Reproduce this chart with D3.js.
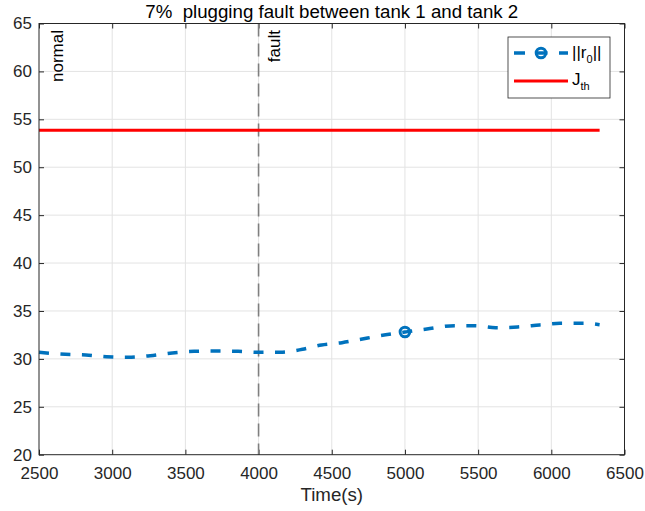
<!DOCTYPE html>
<html>
<head>
<meta charset="utf-8">
<script src="https://cdn.jsdelivr.net/npm/d3@7"></script>
<style>
  body { margin: 0; background: #fff; }
  svg { display: block; font-family: "Liberation Sans", Arial, sans-serif; }
</style>
</head>
<body>
<svg id="chart" width="645" height="511"></svg>
<script>
// residual norm ||r0||
const times = [2500, 2680, 2820, 2960, 3110, 3260, 3410, 3560, 3710, 3860, 4000, 4150, 4300, 4430,
    4570, 4700, 4820, 5000, 5150, 5340, 5480, 5620, 5770, 5920, 6060, 6220, 6330];
const residual = [30.69, 30.48, 30.41, 30.23, 30.17, 30.33, 30.62, 30.79, 30.82, 30.79, 30.69, 30.69, 31.0, 31.45,
    31.69, 32.05, 32.39, 32.8, 33.12, 33.47, 33.47, 33.26, 33.33, 33.54, 33.72, 33.72, 33.57];
const markerTimes = [5000];
const threshold = 53.86;
const thresholdSpan = [2500, 6330];
const faultTime = 4000;
const xTicks = [2500, 3000, 3500, 4000, 4500, 5000, 5500, 6000, 6500];
const yTicks = [20, 25, 30, 35, 40, 45, 50, 55, 60, 65];

const axisColor = "#262626";
const gridColor = "#e3e3e3";
const blue = "#0072bd";
const red = "#ff0000";
const fontSize = 17;
const labelSize = 18.7;

const svg = d3.select("#chart");
const plotLeft = 39, plotRight = 624.5, plotTop = 23.5, plotBottom = 454.7;

const x = d3.scaleLinear().domain([2500, 6500]).range([plotLeft, plotRight]);
const y = d3.scaleLinear().domain([20, 65]).range([plotBottom, plotTop]);

// grid
svg.append("g").selectAll("line").data(xTicks.slice(1, -1)).join("line")
    .attr("x1", d => x(d)).attr("x2", d => x(d))
    .attr("y1", plotTop).attr("y2", plotBottom)
    .attr("stroke", gridColor).attr("stroke-width", 1);
svg.append("g").selectAll("line").data(yTicks.slice(1, -1)).join("line")
    .attr("x1", plotLeft).attr("x2", plotRight)
    .attr("y1", d => y(d)).attr("y2", d => y(d))
    .attr("stroke", gridColor).attr("stroke-width", 1);

// axes (ticks point inward, box on)
function styleAxis(g) {
    g.select(".domain").remove();
    g.selectAll("line").attr("stroke", axisColor);
    g.selectAll("text").attr("fill", axisColor).attr("font-size", fontSize);
}
svg.append("g").attr("transform", `translate(0,${plotBottom})`)
    .call(d3.axisBottom(x).tickValues(xTicks).tickSize(-5).tickPadding(12).tickFormat(d3.format("d")))
    .call(styleAxis);
svg.append("g").attr("transform", `translate(0,${plotTop})`)
    .call(d3.axisTop(x).tickValues(xTicks).tickSize(-5).tickFormat(""))
    .call(styleAxis);
svg.append("g").attr("transform", `translate(${plotLeft},0)`)
    .call(d3.axisLeft(y).tickValues(yTicks).tickSize(-5).tickPadding(7))
    .call(styleAxis);
svg.append("g").attr("transform", `translate(${plotRight},0)`)
    .call(d3.axisRight(y).tickValues(yTicks).tickSize(-5).tickFormat(""))
    .call(styleAxis);

// fault marker line
svg.append("line")
    .attr("x1", x(faultTime)).attr("x2", x(faultTime))
    .attr("y1", plotTop).attr("y2", plotBottom)
    .attr("stroke", "#7f7f7f").attr("stroke-width", 1.6)
    .attr("stroke-dasharray", "13,7");

// threshold
svg.append("line")
    .attr("x1", x(thresholdSpan[0])).attr("x2", x(thresholdSpan[1]))
    .attr("y1", y(threshold)).attr("y2", y(threshold))
    .attr("stroke", red).attr("stroke-width", 3);

// residual
const pts = times.map((t, i) => [t, residual[i]]);
const line = d3.line().x(d => x(d[0])).y(d => y(d[1])).curve(d3.curveMonotoneX);
svg.append("path").datum(pts)
    .attr("d", line)
    .attr("fill", "none").attr("stroke", blue).attr("stroke-width", 3.5)
    .attr("stroke-dasharray", "10,11.5");
svg.append("g").selectAll("circle").data(markerTimes).join("circle")
    .attr("cx", d => x(d)).attr("cy", d => y(residual[times.indexOf(d)]))
    .attr("r", 4.8)
    .attr("fill", "none").attr("stroke", blue).attr("stroke-width", 3);

// box
svg.append("rect")
    .attr("x", plotLeft).attr("y", plotTop)
    .attr("width", plotRight - plotLeft).attr("height", plotBottom - plotTop)
    .attr("fill", "none").attr("stroke", axisColor).attr("stroke-width", 1);

// phase annotations
svg.append("text")
    .attr("transform", `translate(${x(2500) + 24},${plotTop + 6.5}) rotate(-90)`)
    .attr("text-anchor", "end")
    .attr("font-size", fontSize).attr("fill", "#000")
    .text("normal");
svg.append("text")
    .attr("transform", `translate(${x(faultTime) + 21},${plotTop + 6.5}) rotate(-90)`)
    .attr("text-anchor", "end")
    .attr("font-size", fontSize).attr("fill", "#000")
    .text("fault");

// title and x label
svg.append("text")
    .attr("x", (plotLeft + plotRight) / 2).attr("y", 18)
    .attr("text-anchor", "middle").attr("font-size", labelSize).attr("fill", "#000")
    .style("white-space", "pre")
    .text("7%  plugging fault between tank 1 and tank 2");
svg.append("text")
    .attr("x", (plotLeft + plotRight) / 2).attr("y", 501)
    .attr("text-anchor", "middle").attr("font-size", labelSize).attr("fill", axisColor)
    .text("Time(s)");

// legend
const legend = svg.append("g");
legend.append("rect")
    .attr("x", 508).attr("y", 37).attr("width", 102).attr("height", 61)
    .attr("fill", "#fff").attr("stroke", axisColor).attr("stroke-width", 0.8);
legend.append("line")
    .attr("x1", 514).attr("x2", 568).attr("y1", 53).attr("y2", 53)
    .attr("stroke", blue).attr("stroke-width", 3.5)
    .attr("stroke-dasharray", "11,11.5");
legend.append("circle")
    .attr("cx", 541).attr("cy", 53).attr("r", 4.8)
    .attr("fill", "none").attr("stroke", blue).attr("stroke-width", 3);
legend.append("line")
    .attr("x1", 514).attr("x2", 568).attr("y1", 81).attr("y2", 81)
    .attr("stroke", red).attr("stroke-width", 3);
const t1 = legend.append("text").attr("x", 572).attr("y", 58)
    .attr("font-size", fontSize).attr("fill", "#000");
t1.append("tspan").text("||r");
t1.append("tspan").attr("font-size", 11).attr("dy", 5).text("0");
t1.append("tspan").attr("dy", -5).text("||");
const t2 = legend.append("text").attr("x", 572).attr("y", 85)
    .attr("font-size", fontSize).attr("fill", "#000");
t2.append("tspan").text("J");
t2.append("tspan").attr("font-size", 11).attr("dy", 5).text("th");
</script>
</body>
</html>
